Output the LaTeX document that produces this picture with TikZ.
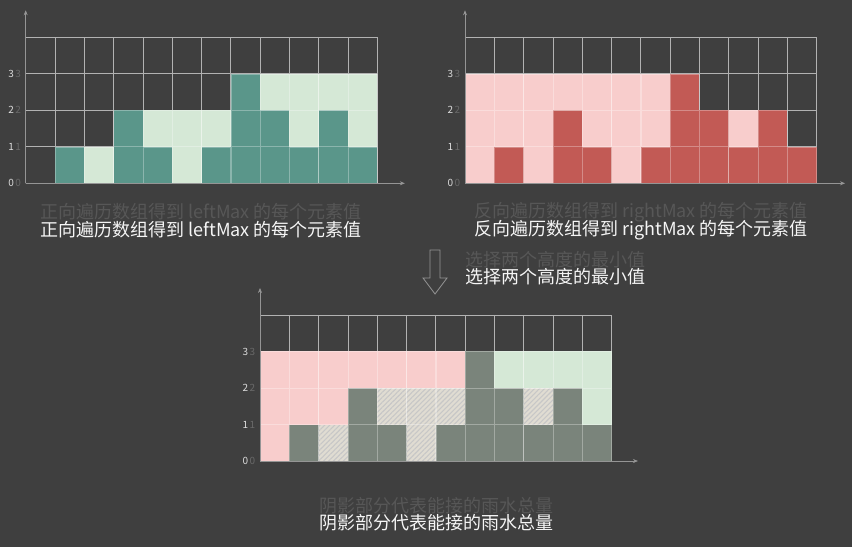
\documentclass[tikz,border=0pt]{standalone}
\usepackage{fontspec}
\setsansfont{Noto Sans CJK SC}
\newfontfamily\cjk{Noto Sans CJK SC}
\usetikzlibrary{arrows.meta,patterns.meta}
\definecolor{bg}{HTML}{3F3F3F}
\definecolor{teal}{HTML}{5A968A}
\definecolor{mint}{HTML}{D5E8D6}
\definecolor{rose}{HTML}{F8CDCC}
\definecolor{brick}{HTML}{C25A55}
\definecolor{slate}{HTML}{7A847B}
\definecolor{sand}{HTML}{E0DCD2}
\definecolor{ghosttext}{HTML}{575757}

\begin{document}
\begin{tikzpicture}[x=1pt,y=1pt,
gridline/.style={draw=white!60!bg, line width=0.8pt, step=1},
cell/.style={draw=white, draw opacity=0.3, line width=0.6pt, step=1},
hatched/.style={fill=sand,
	postaction={pattern={Lines[angle=45,distance=3.5pt,line width=1.1pt]}, pattern color=black!22}},
axis/.style={draw=white!45!bg, line width=0.6pt, -{Stealth[length=5pt,width=4pt]}},
tick/.style={font=\sffamily\fontsize{10}{10}\selectfont, text=white!82!bg, inner sep=0pt},
ghosttick/.style={tick, text=white!22!bg},
caption/.style={font=\cjk\fontsize{18}{18}\selectfont, text=white!95!bg, inner sep=0pt},
ghost/.style={caption, text=ghosttext},
hollow/.style={draw=white!45!bg, line width=0.8pt, line join=miter}
]
\fill[bg] (0,0) rectangle (852,547);

% leftMax
\begin{scope}[shift={(25.7,363.7)}, x=29.3pt, y=36.5pt]
\draw[gridline] (0,0) grid (12,4);
\foreach \i/\h/\m in {0/0/0,1/1/1,2/0/1,3/2/2,4/1/2,5/0/2,6/1/2,7/3/3,8/2/3,9/1/3,10/2/3,11/1/3}
{
	\ifnum\h>0 \fill[teal] (\i,0) rectangle (\i+1,\h); \draw[cell] (\i,0) grid (\i+1,\h); \fi
	\ifnum\m>\h \fill[mint] (\i,\h) rectangle (\i+1,\m); \draw[cell] (\i,\h) grid (\i+1,\m); \fi
}
\draw[axis] (0,0) -- (12.94,0);
\draw[axis] (0,0) -- (0,4.74);
\foreach \k in {0,...,3}
{
	\node[ghosttick] at (-0.26,\k) {\k};
	\node[tick] at (-0.5,\k) {\k};
}
\end{scope}

% rightMax
\begin{scope}[shift={(465,363.7)}, x=29.3pt, y=36.5pt]
\draw[gridline] (0,0) grid (12,4);
\foreach \i/\h/\m in {0/0/3,1/1/3,2/0/3,3/2/3,4/1/3,5/0/3,6/1/3,7/3/3,8/2/2,9/1/2,10/2/2,11/1/1}
{
	\ifnum\h>0 \fill[brick] (\i,0) rectangle (\i+1,\h); \draw[cell] (\i,0) grid (\i+1,\h); \fi
	\ifnum\m>\h \fill[rose] (\i,\h) rectangle (\i+1,\m); \draw[cell] (\i,\h) grid (\i+1,\m); \fi
}
\draw[axis] (0,0) -- (12.97,0);
\draw[axis] (0,0) -- (0,4.74);
\foreach \k in {0,...,3}
{
	\node[ghosttick] at (-0.26,\k) {\k};
	\node[tick] at (-0.5,\k) {\k};
}
\end{scope}

% min of both
\begin{scope}[shift={(260,86)}, x=29.3pt, y=36.5pt]
\draw[gridline] (0,0) grid (12,4);
\foreach \i/\h/\w/\r/\l in {0/0/0/3/0,1/1/1/3/1,2/0/1/3/1,3/2/2/3/2,4/1/2/3/2,5/0/2/3/2,6/1/2/3/2,7/3/3/3/3,8/2/2/2/3,9/1/2/2/3,10/2/2/2/3,11/1/1/1/3}
{
	\ifnum\h>0 \fill[slate] (\i,0) rectangle (\i+1,\h); \draw[cell] (\i,0) grid (\i+1,\h); \fi
	\ifnum\w>\h \fill[hatched] (\i,\h) rectangle (\i+1,\w); \draw[cell] (\i,\h) grid (\i+1,\w); \fi
	\ifnum\r>\w \fill[rose] (\i,\w) rectangle (\i+1,\r); \draw[cell] (\i,\w) grid (\i+1,\r); \fi
	\ifnum\l>\w \fill[mint] (\i,\w) rectangle (\i+1,\l); \draw[cell] (\i,\w) grid (\i+1,\l); \fi
}
\draw[axis] (0,0) -- (12.9,0);
\draw[axis] (0,0) -- (0,4.74);
\foreach \k in {0,...,3}
{
	\node[ghosttick] at (-0.26,\k) {\k};
	\node[tick] at (-0.5,\k) {\k};
}
\end{scope}

% captions
\node[caption] (capL) at (201,317) {正向遍历数组得到 leftMax 的每个元素值};
\node[ghost] (capLg) at ([yshift=18pt]capL.center) {正向遍历数组得到 leftMax 的每个元素值};
\node[caption] (capR) at (641,317) {反向遍历数组得到 rightMax 的每个元素值};
\node[ghost] (capRg) at ([yshift=18pt]capR.center) {反向遍历数组得到 rightMax 的每个元素值};
\node[caption, anchor=west] (capM) at (465,270) {选择两个高度的最小值};
\node[ghost, anchor=west] (capMg) at ([yshift=17pt]capM.west) {选择两个高度的最小值};
\node[caption] (capB) at (436,24) {阴影部分代表能接的雨水总量};
\node[ghost] (capBg) at ([yshift=17pt]capB.center) {阴影部分代表能接的雨水总量};

% down arrow
\draw[hollow] (430,297) -- (440,297) -- (440,269) -- (447,269) -- (435,253)
	-- (423,269) -- (430,269) -- cycle;
\end{tikzpicture}
\end{document}
